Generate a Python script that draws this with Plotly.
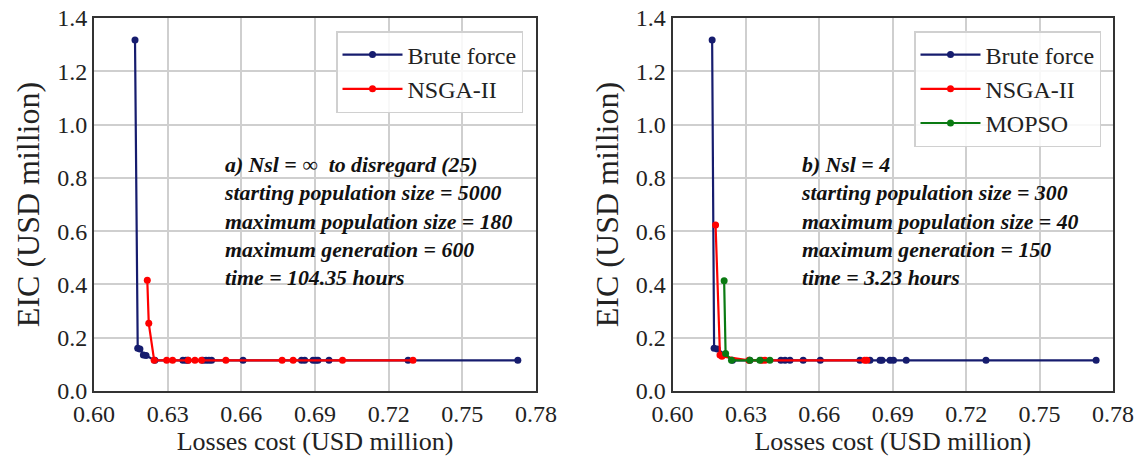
import plotly.graph_objects as go

# ---------------- data ----------------
# Panel a)
bf_a_x = [0.6167, 0.6178, 0.6187, 0.6201, 0.6212, 0.6248, 0.6362, 0.6374, 0.6382, 0.6443, 0.6456,
          0.6468, 0.6479, 0.6607, 0.6845, 0.6858, 0.6892, 0.6903, 0.6912, 0.6957, 0.7279, 0.7726]
bf_a_y = [1.317, 0.160, 0.158, 0.135, 0.133, 0.115, 0.115, 0.115, 0.115, 0.115, 0.115,
          0.115, 0.115, 0.115, 0.115, 0.115, 0.115, 0.115, 0.115, 0.115, 0.115, 0.115]
ns_a_x = [0.6217, 0.6223, 0.6245, 0.6296, 0.6320, 0.6384, 0.6411, 0.6438, 0.6537, 0.6766, 0.6811,
          0.7012, 0.7299]
ns_a_y = [0.416, 0.254, 0.115, 0.115, 0.115, 0.115, 0.115, 0.115, 0.115, 0.115, 0.115,
          0.115, 0.115]

# Panel b)
bf_b_x = [0.6162, 0.6170, 0.6183, 0.6245, 0.6316, 0.6443, 0.6460, 0.6480, 0.6534, 0.6604, 0.6766,
          0.6807, 0.6848, 0.6856, 0.6889, 0.6903, 0.6955, 0.7281, 0.7731]
bf_b_y = [1.317, 0.160, 0.158, 0.115, 0.115, 0.115, 0.115, 0.115, 0.115, 0.115, 0.115,
          0.115, 0.115, 0.115, 0.115, 0.115, 0.115, 0.115, 0.115]
ns_b_x = [0.6176, 0.6194, 0.6202, 0.6312, 0.6364, 0.6378, 0.6785, 0.6794]
ns_b_y = [0.623, 0.135, 0.130, 0.115, 0.115, 0.115, 0.115, 0.115]
mo_b_x = [0.6211, 0.6217, 0.6241, 0.6316, 0.6357, 0.6398]
mo_b_y = [0.414, 0.141, 0.115, 0.115, 0.115, 0.115]

x_ticks = [0.60, 0.63, 0.66, 0.69, 0.72, 0.75, 0.78]
y_ticks = [0.0, 0.2, 0.4, 0.6, 0.8, 1.0, 1.2, 1.4]

note_a = ["a) Nsl = \u221e\u00a0 to disregard (25)", "starting population size = 5000",
          "maximum population size = 180", "maximum generation = 600", "time = 104.35 hours"]
note_b = ["b) Nsl = 4", "starting population size = 300",
          "maximum population size = 40", "maximum generation = 150", "time = 3.23 hours"]

NAVY = "#161c6e"
RED = "#ff0000"
GREEN = "#0a7a12"
FONT = "Liberation Serif"
TXT = "#222222"

W, H = 1139, 466
fig = go.Figure()

def add(x, y, name, color, xa, ya, legend):
    fig.add_trace(go.Scatter(x=x, y=y, mode="lines+markers", name=name,
                             line=dict(color=color, width=2.2),
                             marker=dict(color=color, size=7),
                             xaxis=xa, yaxis=ya, legend=legend))

add(bf_a_x, bf_a_y, "Brute force", NAVY, "x", "y", "legend")
add(ns_a_x, ns_a_y, "NSGA-II", RED, "x", "y", "legend")
add(bf_b_x, bf_b_y, "Brute force", NAVY, "x2", "y2", "legend2")
add(ns_b_x, ns_b_y, "NSGA-II", RED, "x2", "y2", "legend2")
add(mo_b_x, mo_b_y, "MOPSO", GREEN, "x2", "y2", "legend2")

axis_common = dict(showgrid=True, gridcolor="#cfcfcf", gridwidth=1.5,
                   showline=True, linecolor="#333333", linewidth=1.8, mirror=True,
                   zeroline=False, ticks="", automargin=False,
                   tickfont=dict(family=FONT, size=24, color=TXT))

xa = dict(range=[0.60, 0.78], tickvals=x_ticks, ticktext=[f"{v:.2f}" for v in x_ticks],
          title=dict(text="Losses cost (USD million)", standoff=6,
                     font=dict(family=FONT, size=26, color=TXT)),
          **axis_common)
ya = dict(range=[0, 1.4], tickvals=y_ticks, ticktext=[f"{v:.1f}" for v in y_ticks],
          title=dict(text="EIC (USD million)", standoff=8,
                     font=dict(family=FONT, size=32, color=TXT)),
          **axis_common)

left_dom = [94 / W, 536 / W]
right_dom = [672.5 / W, 1113 / W]

leg_common = dict(y=1 - 13 / 373, yanchor="top", xanchor="right",
                  bgcolor="rgba(255,255,255,0.85)", bordercolor="#d0d0d0", borderwidth=1.5,
                  font=dict(family=FONT, size=24, color=TXT), itemwidth=60,
                  tracegroupgap=0)

fig.update_layout(
    width=W, height=H,
    margin=dict(l=0, r=0, t=18, b=75, autoexpand=False),
    plot_bgcolor="white", paper_bgcolor="white",
    font=dict(family=FONT, color=TXT),
    xaxis=dict(domain=left_dom, anchor="y", **xa),
    yaxis=dict(anchor="x", **ya),
    xaxis2=dict(domain=right_dom, anchor="y2", **xa),
    yaxis2=dict(anchor="x2", **ya),
    legend=dict(x=523 / W, **leg_common),
    legend2=dict(x=1101 / W, **leg_common),
    showlegend=True,
)

for lines, xpos in [(note_a, 222 / W), (note_b, 799 / W)]:
    fig.add_annotation(xref="paper", yref="paper", x=xpos, y=(391 - 151) / 373,
                       xanchor="left", yanchor="top", align="left", showarrow=False,
                       text="<br>".join(f"<b><i>{t}</i></b>" for t in lines),
                       font=dict(family=FONT, size=21.8, color="#111111"))

fig.write_html("out.html")
